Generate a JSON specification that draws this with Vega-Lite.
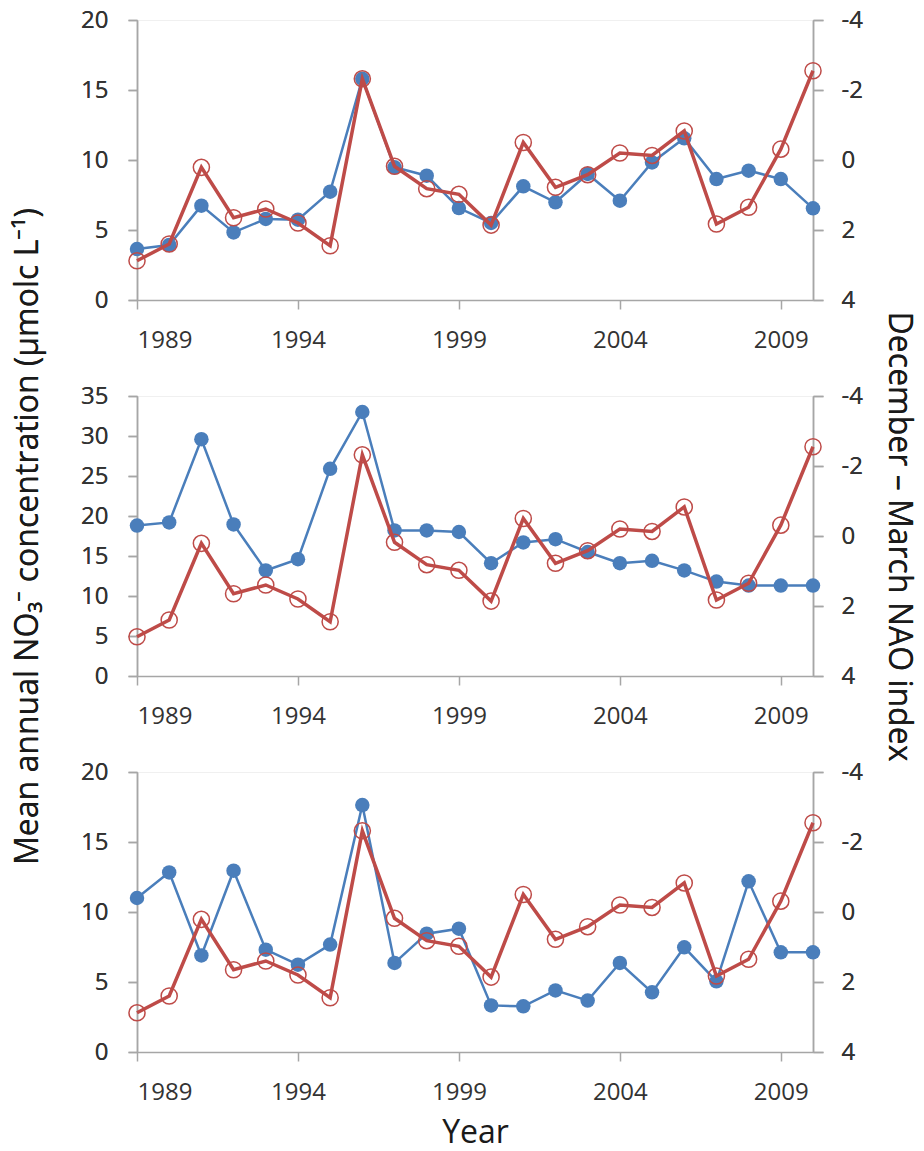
{
  "$schema": "https://vega.github.io/schema/vega-lite/v6.json",
  "padding": {"left": 11, "top": 7, "right": 0, "bottom": 0},
  "bounds": "flush",
  "spacing": 96,
  "datasets": {
    "no3": [
      {"panel": 1, "year": 1989, "value": 3.64}, {"panel": 1, "year": 1990, "value": 3.93}, {"panel": 1, "year": 1991, "value": 6.74},
      {"panel": 1, "year": 1992, "value": 4.83}, {"panel": 1, "year": 1993, "value": 5.79}, {"panel": 1, "year": 1994, "value": 5.74},
      {"panel": 1, "year": 1995, "value": 7.74}, {"panel": 1, "year": 1996, "value": 15.8}, {"panel": 1, "year": 1997, "value": 9.48},
      {"panel": 1, "year": 1998, "value": 8.88}, {"panel": 1, "year": 1999, "value": 6.57}, {"panel": 1, "year": 2000, "value": 5.5},
      {"panel": 1, "year": 2001, "value": 8.12}, {"panel": 1, "year": 2002, "value": 6.98}, {"panel": 1, "year": 2003, "value": 9.0},
      {"panel": 1, "year": 2004, "value": 7.09}, {"panel": 1, "year": 2005, "value": 9.83}, {"panel": 1, "year": 2006, "value": 11.55},
      {"panel": 1, "year": 2007, "value": 8.64}, {"panel": 1, "year": 2008, "value": 9.24}, {"panel": 1, "year": 2009, "value": 8.64},
      {"panel": 1, "year": 2010, "value": 6.55},
      {"panel": 2, "year": 1989, "value": 18.8}, {"panel": 2, "year": 1990, "value": 19.2}, {"panel": 2, "year": 1991, "value": 29.6},
      {"panel": 2, "year": 1992, "value": 18.95}, {"panel": 2, "year": 1993, "value": 13.2}, {"panel": 2, "year": 1994, "value": 14.6},
      {"panel": 2, "year": 1995, "value": 25.9}, {"panel": 2, "year": 1996, "value": 33.0}, {"panel": 2, "year": 1997, "value": 18.2},
      {"panel": 2, "year": 1998, "value": 18.2}, {"panel": 2, "year": 1999, "value": 18.0}, {"panel": 2, "year": 2000, "value": 14.1},
      {"panel": 2, "year": 2001, "value": 16.7}, {"panel": 2, "year": 2002, "value": 17.1}, {"panel": 2, "year": 2003, "value": 15.5},
      {"panel": 2, "year": 2004, "value": 14.1}, {"panel": 2, "year": 2005, "value": 14.4}, {"panel": 2, "year": 2006, "value": 13.2},
      {"panel": 2, "year": 2007, "value": 11.8}, {"panel": 2, "year": 2008, "value": 11.3}, {"panel": 2, "year": 2009, "value": 11.3},
      {"panel": 2, "year": 2010, "value": 11.3},
      {"panel": 3, "year": 1989, "value": 11.0}, {"panel": 3, "year": 1990, "value": 12.83}, {"panel": 3, "year": 1991, "value": 6.9},
      {"panel": 3, "year": 1992, "value": 12.95}, {"panel": 3, "year": 1993, "value": 7.31}, {"panel": 3, "year": 1994, "value": 6.24},
      {"panel": 3, "year": 1995, "value": 7.67}, {"panel": 3, "year": 1996, "value": 17.64}, {"panel": 3, "year": 1997, "value": 6.36},
      {"panel": 3, "year": 1998, "value": 8.45}, {"panel": 3, "year": 1999, "value": 8.81}, {"panel": 3, "year": 2000, "value": 3.33},
      {"panel": 3, "year": 2001, "value": 3.26}, {"panel": 3, "year": 2002, "value": 4.4}, {"panel": 3, "year": 2003, "value": 3.67},
      {"panel": 3, "year": 2004, "value": 6.36}, {"panel": 3, "year": 2005, "value": 4.26}, {"panel": 3, "year": 2006, "value": 7.48},
      {"panel": 3, "year": 2007, "value": 5.05}, {"panel": 3, "year": 2008, "value": 12.19}, {"panel": 3, "year": 2009, "value": 7.12},
      {"panel": 3, "year": 2010, "value": 7.12}
    ],
    "nao": [
      {"year": 1989, "nao": 2.88}, {"year": 1990, "nao": 2.4}, {"year": 1991, "nao": 0.21}, {"year": 1992, "nao": 1.65},
      {"year": 1993, "nao": 1.4}, {"year": 1994, "nao": 1.8}, {"year": 1995, "nao": 2.45}, {"year": 1996, "nao": -2.32},
      {"year": 1997, "nao": 0.18}, {"year": 1998, "nao": 0.82}, {"year": 1999, "nao": 0.98}, {"year": 2000, "nao": 1.86},
      {"year": 2001, "nao": -0.5}, {"year": 2002, "nao": 0.78}, {"year": 2003, "nao": 0.42}, {"year": 2004, "nao": -0.2},
      {"year": 2005, "nao": -0.13}, {"year": 2006, "nao": -0.83}, {"year": 2007, "nao": 1.83}, {"year": 2008, "nao": 1.35},
      {"year": 2009, "nao": -0.31}, {"year": 2010, "nao": -2.55}
    ]
  },
  "config": {
    "font": "Open Sans",
    "view": {"stroke": "#F0F0F0"},
    "axis": {
      "domainColor": "#A6A6A6", "domainWidth": 1.5, "tickColor": "#A6A6A6", "tickWidth": 1.5,
      "labelFontSize": 24, "labelColor": "#333333", "grid": false,
      "titleFontSize": 32, "titleFontWeight": "normal", "titleColor": "#1a1a1a"
    }
  },
  "vconcat": [
    {
      "width": 676, "height": 280,
      "resolve": {"scale": {"y": "independent"}},
      "layer": [
        {
          "data": {"name": "no3"}, "transform": [{"filter": "datum.panel == 1"}],
          "mark": {"type": "line", "color": "#4A7EBB", "strokeWidth": 2.5},
          "encoding": {
            "x": {"field": "year", "type": "quantitative", "scale": {"domain": [1989, 2010], "nice": false, "zero": false}, "axis": {"values": [1989, 1994, 1999, 2004, 2009], "format": "d", "tickSize": 9, "labelPadding": 19, "title": null}},
            "y": {"field": "value", "type": "quantitative", "scale": {"domain": [0, 20], "nice": false}, "axis": {"orient": "left", "values": [0, 5, 10, 15, 20], "tickSize": 9, "labelPadding": 20, "title": null}}
          }
        },
        {
          "data": {"name": "no3"}, "transform": [{"filter": "datum.panel == 1"}],
          "mark": {"type": "point", "filled": true, "color": "#4A7EBB", "size": 210, "opacity": 1},
          "encoding": {
            "x": {"field": "year", "type": "quantitative", "scale": {"domain": [1989, 2010], "nice": false, "zero": false}, "axis": {"values": [1989, 1994, 1999, 2004, 2009], "format": "d", "tickSize": 9, "labelPadding": 19, "title": null}},
            "y": {"field": "value", "type": "quantitative", "scale": {"domain": [0, 20], "nice": false}, "axis": {"orient": "left", "values": [0, 5, 10, 15, 20], "tickSize": 9, "labelPadding": 20, "title": null}}
          }
        },
        {
          "data": {"name": "nao"},
          "mark": {"type": "line", "color": "#BE4B48", "strokeWidth": 3.5},
          "encoding": {
            "x": {"field": "year", "type": "quantitative", "scale": {"domain": [1989, 2010], "nice": false, "zero": false}, "axis": {"values": [1989, 1994, 1999, 2004, 2009], "format": "d", "tickSize": 9, "labelPadding": 19, "title": null}},
            "y": {"field": "nao", "type": "quantitative", "scale": {"domain": [-4, 4], "reverse": true, "nice": false}, "axis": {"orient": "right", "values": [-4, -2, 0, 2, 4], "labelExpr": "'' + datum.value", "tickSize": 10, "labelPadding": 18, "title": null}}
          }
        },
        {
          "data": {"name": "nao"},
          "mark": {"type": "point", "filled": false, "color": "#BE4B48", "size": 260, "strokeWidth": 1.5, "opacity": 1},
          "encoding": {
            "x": {"field": "year", "type": "quantitative", "scale": {"domain": [1989, 2010], "nice": false, "zero": false}, "axis": {"values": [1989, 1994, 1999, 2004, 2009], "format": "d", "tickSize": 9, "labelPadding": 19, "title": null}},
            "y": {"field": "nao", "type": "quantitative", "scale": {"domain": [-4, 4], "reverse": true, "nice": false}, "axis": {"orient": "right", "values": [-4, -2, 0, 2, 4], "labelExpr": "'' + datum.value", "tickSize": 10, "labelPadding": 18, "title": null}}
          }
        }
      ]
    },
    {
      "width": 676, "height": 280,
      "resolve": {"scale": {"y": "independent"}},
      "layer": [
        {
          "data": {"name": "no3"}, "transform": [{"filter": "datum.panel == 2"}],
          "mark": {"type": "line", "color": "#4A7EBB", "strokeWidth": 2.5},
          "encoding": {
            "x": {"field": "year", "type": "quantitative", "scale": {"domain": [1989, 2010], "nice": false, "zero": false}, "axis": {"values": [1989, 1994, 1999, 2004, 2009], "format": "d", "tickSize": 9, "labelPadding": 19, "title": null}},
            "y": {"field": "value", "type": "quantitative", "scale": {"domain": [0, 35], "nice": false}, "axis": {"orient": "left", "values": [0, 5, 10, 15, 20, 25, 30, 35], "tickSize": 9, "labelPadding": 20, "title": "Mean annual NO₃⁻ concentration (µmolc L⁻¹)", "titlePadding": 36}}
          }
        },
        {
          "data": {"name": "no3"}, "transform": [{"filter": "datum.panel == 2"}],
          "mark": {"type": "point", "filled": true, "color": "#4A7EBB", "size": 210, "opacity": 1},
          "encoding": {
            "x": {"field": "year", "type": "quantitative", "scale": {"domain": [1989, 2010], "nice": false, "zero": false}, "axis": {"values": [1989, 1994, 1999, 2004, 2009], "format": "d", "tickSize": 9, "labelPadding": 19, "title": null}},
            "y": {"field": "value", "type": "quantitative", "scale": {"domain": [0, 35], "nice": false}, "axis": {"orient": "left", "values": [0, 5, 10, 15, 20, 25, 30, 35], "tickSize": 9, "labelPadding": 20, "title": "Mean annual NO₃⁻ concentration (µmolc L⁻¹)", "titlePadding": 36}}
          }
        },
        {
          "data": {"name": "nao"},
          "mark": {"type": "line", "color": "#BE4B48", "strokeWidth": 3.5},
          "encoding": {
            "x": {"field": "year", "type": "quantitative", "scale": {"domain": [1989, 2010], "nice": false, "zero": false}, "axis": {"values": [1989, 1994, 1999, 2004, 2009], "format": "d", "tickSize": 9, "labelPadding": 19, "title": null}},
            "y": {"field": "nao", "type": "quantitative", "scale": {"domain": [-4, 4], "reverse": true, "nice": false}, "axis": {"orient": "right", "values": [-4, -2, 0, 2, 4], "labelExpr": "'' + datum.value", "tickSize": 10, "labelPadding": 18, "title": "December – March NAO index", "titlePadding": 19}}
          }
        },
        {
          "data": {"name": "nao"},
          "mark": {"type": "point", "filled": false, "color": "#BE4B48", "size": 260, "strokeWidth": 1.5, "opacity": 1},
          "encoding": {
            "x": {"field": "year", "type": "quantitative", "scale": {"domain": [1989, 2010], "nice": false, "zero": false}, "axis": {"values": [1989, 1994, 1999, 2004, 2009], "format": "d", "tickSize": 9, "labelPadding": 19, "title": null}},
            "y": {"field": "nao", "type": "quantitative", "scale": {"domain": [-4, 4], "reverse": true, "nice": false}, "axis": {"orient": "right", "values": [-4, -2, 0, 2, 4], "labelExpr": "'' + datum.value", "tickSize": 10, "labelPadding": 18, "title": "December – March NAO index", "titlePadding": 19}}
          }
        }
      ]
    },
    {
      "width": 676, "height": 280,
      "resolve": {"scale": {"y": "independent"}},
      "layer": [
        {
          "data": {"name": "no3"}, "transform": [{"filter": "datum.panel == 3"}],
          "mark": {"type": "line", "color": "#4A7EBB", "strokeWidth": 2.5},
          "encoding": {
            "x": {"field": "year", "type": "quantitative", "scale": {"domain": [1989, 2010], "nice": false, "zero": false}, "axis": {"values": [1989, 1994, 1999, 2004, 2009], "format": "d", "tickSize": 9, "labelPadding": 19, "title": "Year", "titlePadding": 13}},
            "y": {"field": "value", "type": "quantitative", "scale": {"domain": [0, 20], "nice": false}, "axis": {"orient": "left", "values": [0, 5, 10, 15, 20], "tickSize": 9, "labelPadding": 20, "title": null}}
          }
        },
        {
          "data": {"name": "no3"}, "transform": [{"filter": "datum.panel == 3"}],
          "mark": {"type": "point", "filled": true, "color": "#4A7EBB", "size": 210, "opacity": 1},
          "encoding": {
            "x": {"field": "year", "type": "quantitative", "scale": {"domain": [1989, 2010], "nice": false, "zero": false}, "axis": {"values": [1989, 1994, 1999, 2004, 2009], "format": "d", "tickSize": 9, "labelPadding": 19, "title": "Year", "titlePadding": 13}},
            "y": {"field": "value", "type": "quantitative", "scale": {"domain": [0, 20], "nice": false}, "axis": {"orient": "left", "values": [0, 5, 10, 15, 20], "tickSize": 9, "labelPadding": 20, "title": null}}
          }
        },
        {
          "data": {"name": "nao"},
          "mark": {"type": "line", "color": "#BE4B48", "strokeWidth": 3.5},
          "encoding": {
            "x": {"field": "year", "type": "quantitative", "scale": {"domain": [1989, 2010], "nice": false, "zero": false}, "axis": {"values": [1989, 1994, 1999, 2004, 2009], "format": "d", "tickSize": 9, "labelPadding": 19, "title": "Year", "titlePadding": 13}},
            "y": {"field": "nao", "type": "quantitative", "scale": {"domain": [-4, 4], "reverse": true, "nice": false}, "axis": {"orient": "right", "values": [-4, -2, 0, 2, 4], "labelExpr": "'' + datum.value", "tickSize": 10, "labelPadding": 18, "title": null}}
          }
        },
        {
          "data": {"name": "nao"},
          "mark": {"type": "point", "filled": false, "color": "#BE4B48", "size": 260, "strokeWidth": 1.5, "opacity": 1},
          "encoding": {
            "x": {"field": "year", "type": "quantitative", "scale": {"domain": [1989, 2010], "nice": false, "zero": false}, "axis": {"values": [1989, 1994, 1999, 2004, 2009], "format": "d", "tickSize": 9, "labelPadding": 19, "title": "Year", "titlePadding": 13}},
            "y": {"field": "nao", "type": "quantitative", "scale": {"domain": [-4, 4], "reverse": true, "nice": false}, "axis": {"orient": "right", "values": [-4, -2, 0, 2, 4], "labelExpr": "'' + datum.value", "tickSize": 10, "labelPadding": 18, "title": null}}
          }
        }
      ]
    }
  ]
}
